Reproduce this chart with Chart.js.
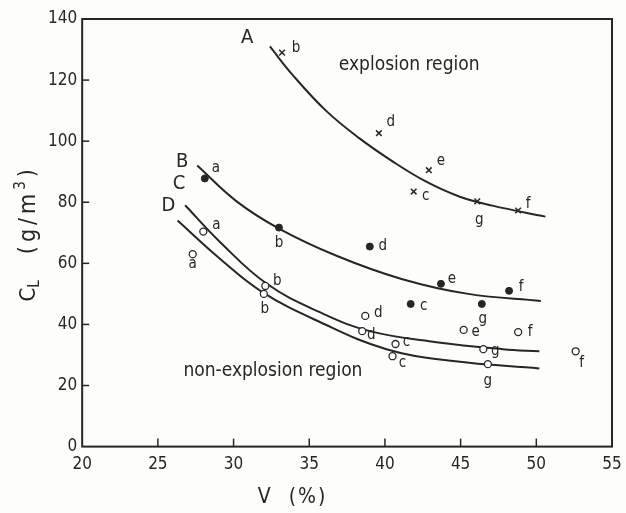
<!DOCTYPE html>
<html>
<head>
<meta charset="utf-8">
<script src="https://cdn.jsdelivr.net/npm/chart.js@4.4.1/dist/chart.umd.min.js"></script>
<style>
  html, body { margin: 0; padding: 0; background: #fdfdfb; }
  #wrap { width: 626px; height: 513px; }
</style>
</head>
<body>
<div id="wrap"><canvas id="myChart" width="626" height="513"></canvas></div>
<script>
// measured points, V (%) vs C_L (g/m3)
const labelsA = ["b", "d", "e", "c", "g", "f"];
const vA = [33.2, 39.6, 42.9, 41.9, 46.1, 48.8];
const cA = [129, 102.6, 90.5, 83.5, 80.3, 77.3];

const labelsB = ["a", "b", "d", "e", "f", "c", "g"];
const vB = [28.1, 33.0, 39.0, 43.7, 48.2, 41.7, 46.4];
const cB = [87.8, 71.7, 65.5, 53.3, 51, 46.7, 46.7];

const labelsC = ["a", "b", "d", "c", "e", "f", "g"];
const vC = [28.0, 32.1, 38.7, 40.7, 45.2, 48.8, 46.5];
const cC = [70.4, 52.6, 42.8, 33.6, 38.2, 37.5, 31.9];

const labelsD = ["a", "b", "d", "c", "f", "g"];
const vD = [27.3, 32.0, 38.5, 40.5, 52.6, 46.8];
const cD = [63, 50, 37.8, 29.6, 31.2, 27];

// fitted curves
const curveAV = [32.4, 33.9, 36.1, 38.3, 40.5, 42.7, 44.9, 47.1, 50.6];
const curveAC = [131, 121.7, 110, 101, 93.4, 86.8, 81.9, 78.9, 75.3];
const curveBV = [27.6, 30.2, 33.0, 36.8, 41.1, 45.5, 50.3];
const curveBC = [92, 80.3, 71.4, 62.5, 54.9, 50, 47.7];
const curveCV = [26.8, 29.1, 32.2, 35.7, 39.0, 43.4, 47.8, 50.2];
const curveCC = [79, 67, 53.3, 44, 37.8, 34.2, 31.9, 31.2];
const curveDV = [26.3, 29.1, 31.9, 35.7, 40.1, 44.5, 50.2];
const curveDC = [74, 61.5, 50.6, 40.8, 31.9, 28, 25.6];

const xTicks = [20, 25, 30, 35, 40, 45, 50, 55];
const yTicks = [0, 20, 40, 60, 80, 100, 120, 140];

const curveNames = ["A", "B", "C", "D"];
const curveNameV = [30.9, 26.6, 26.4, 25.7];
const curveNameC = [134, 93.4, 86, 79];

const regionTexts = ["explosion region", "non-explosion region"];
const regionV = [41.6, 32.6];
const regionC = [125, 24.7];

// label offsets in px (style only)
const offA = [[14, -4], [12, -11], [12, -9], [12, 5], [2, 19], [10, -6]];
const offB = [[11, -10], [0, 16], [13, 0], [11, -5], [12, -4], [13, 2], [1, 15]];
const offC = [[13, -6], [12, -5], [13, -3], [11, -2], [12, 2], [12, 0], [12, 2]];
const offD = [[0, 10], [1, 15], [9, 4], [10, 7], [6, 12], [0, 17]];

const ink = "#262626";
const fontFam = "'DejaVu Sans Condensed', 'DejaVu Sans', sans-serif";

const pts = (xs, ys) => xs.map((x, i) => ({ x: x, y: ys[i] }));

const curveStyle = {
    type: "line",
    showLine: true,
    borderColor: ink,
    borderWidth: 2,
    pointRadius: 0,
    fill: false,
    tension: 0.4,
};

const labelPlugin = {
    id: "annot",
    afterDraw(chart) {
        const ctx = chart.ctx;
        const area = chart.chartArea;
        const xs = chart.scales.x;
        const ys = chart.scales.y;
        ctx.save();

        // frame
        ctx.strokeStyle = ink;
        ctx.lineWidth = 2;
        ctx.strokeRect(area.left, area.top, area.right - area.left, area.bottom - area.top);

        // inward tick marks
        ctx.lineWidth = 1.5;
        xTicks.slice(1, -1).forEach((t) => {
            const px = xs.getPixelForValue(t);
            ctx.beginPath();
            ctx.moveTo(px, area.bottom);
            ctx.lineTo(px, area.bottom - 8);
            ctx.stroke();
        });
        yTicks.slice(1, -1).forEach((t) => {
            const py = ys.getPixelForValue(t);
            ctx.beginPath();
            ctx.moveTo(area.left, py);
            ctx.lineTo(area.left + 7, py);
            ctx.stroke();
        });

        // point letters
        ctx.fillStyle = ink;
        ctx.font = "15px " + fontFam;
        ctx.textAlign = "center";
        ctx.textBaseline = "middle";
        const groups = [[0, labelsA, offA], [1, labelsB, offB], [2, labelsC, offC], [3, labelsD, offD]];
        groups.forEach(([di, labs, offs]) => {
            const meta = chart.getDatasetMeta(di);
            meta.data.forEach((el, i) => {
                ctx.fillText(labs[i], el.x + offs[i][0], el.y + offs[i][1]);
            });
        });

        // curve names
        ctx.font = "20px " + fontFam;
        curveNames.forEach((n, i) => {
            ctx.fillText(n, xs.getPixelForValue(curveNameV[i]), ys.getPixelForValue(curveNameC[i]));
        });

        // region texts
        ctx.font = "19px " + fontFam;
        regionTexts.forEach((t, i) => {
            ctx.fillText(t, xs.getPixelForValue(regionV[i]), ys.getPixelForValue(regionC[i]));
        });

        // axis titles
        ctx.font = "21px " + fontFam;
        ctx.letterSpacing = "2px";
        ctx.fillText("V  (%)", xs.getPixelForValue(33.9), area.bottom + 51);

        ctx.translate(29, ys.getPixelForValue(47.5));
        ctx.rotate(-Math.PI / 2);
        ctx.textAlign = "left";
        ctx.letterSpacing = "0px";
        ctx.font = "22px " + fontFam;
        ctx.fillText("C", 0, 0);
        let w = ctx.measureText("C").width;
        ctx.font = "15px " + fontFam;
        ctx.fillText("L", w, 6);
        w += ctx.measureText("L").width + 26;
        ctx.letterSpacing = "4px";
        ctx.font = "23px " + fontFam;
        ctx.fillText("(g/m", w, 0);
        w += ctx.measureText("(g/m").width;
        ctx.font = "15px " + fontFam;
        ctx.fillText("3", w, -8);
        w += ctx.measureText("3").width;
        ctx.font = "23px " + fontFam;
        ctx.fillText(")", w, 0);
        ctx.restore();
    },
};

document.addEventListener("DOMContentLoaded", () => {
    const ctx = document.getElementById("myChart").getContext("2d");
    new Chart(ctx, {
        type: "scatter",
        data: {
            datasets: [
                {
                    label: "A",
                    data: pts(vA, cA),
                    pointStyle: "crossRot",
                    pointRadius: 4,
                    borderColor: ink,
                    borderWidth: 1.5,
                },
                {
                    label: "B",
                    data: pts(vB, cB),
                    pointStyle: "circle",
                    pointRadius: 3.5,
                    backgroundColor: ink,
                    borderColor: ink,
                },
                {
                    label: "C",
                    data: pts(vC, cC),
                    pointStyle: "circle",
                    pointRadius: 3.5,
                    backgroundColor: "#ffffff",
                    borderColor: ink,
                    borderWidth: 1.3,
                },
                {
                    label: "D",
                    data: pts(vD, cD),
                    pointStyle: "circle",
                    pointRadius: 3.5,
                    backgroundColor: "#ffffff",
                    borderColor: ink,
                    borderWidth: 1.3,
                },
                { ...curveStyle, label: "curve A", data: pts(curveAV, curveAC) },
                { ...curveStyle, label: "curve B", data: pts(curveBV, curveBC) },
                { ...curveStyle, label: "curve C", data: pts(curveCV, curveCC) },
                { ...curveStyle, label: "curve D", data: pts(curveDV, curveDC) },
            ],
        },
        options: {
            responsive: false,
            animation: false,
            layout: { padding: { left: 43, right: 14, top: 19, bottom: 30 } },
            plugins: {
                legend: { display: false },
                tooltip: { enabled: false },
            },
            scales: {
                x: {
                    type: "linear",
                    min: 20,
                    max: 55,
                    afterBuildTicks: (s) => { s.ticks = xTicks.map((v) => ({ value: v })); },
                    afterFit: (s) => { s.paddingRight = 0; },
                    grid: { display: false, drawTicks: false },
                    border: { display: false },
                    ticks: { color: ink, padding: 8, font: { family: fontFam, size: 17 } },
                },
                y: {
                    min: 0,
                    max: 140,
                    afterBuildTicks: (s) => { s.ticks = yTicks.map((v) => ({ value: v })); },
                    grid: { display: false, drawTicks: false },
                    border: { display: false },
                    ticks: { color: ink, padding: 5, font: { family: fontFam, size: 17 } },
                },
            },
        },
        plugins: [labelPlugin],
    });
});
</script>
</body>
</html>
